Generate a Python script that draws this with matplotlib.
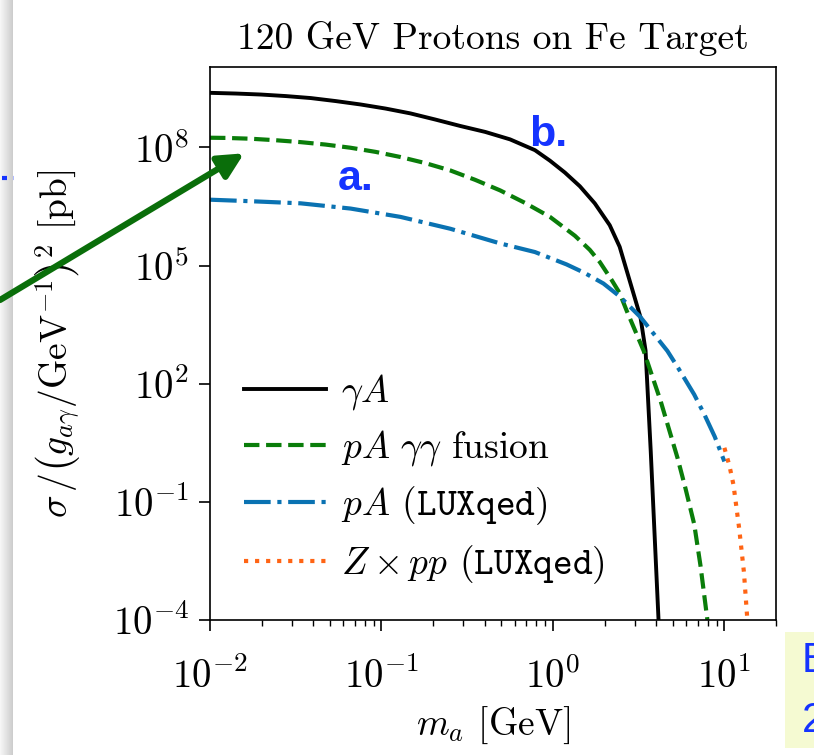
import numpy as np
import matplotlib.pyplot as plt
from matplotlib.patches import Rectangle
from matplotlib.lines import Line2D
from matplotlib.ticker import NullLocator, LogLocator

plt.rcParams.update({
    "font.family": "serif",
    "font.serif": ["cmr10"],
    "mathtext.fontset": "cm",
    "axes.formatter.use_mathtext": True,
})

# cross sections per unit coupling^2, pb
ma_gA = [0.01, 0.0142, 0.0198, 0.0277, 0.0387, 0.0541, 0.0755, 0.1055, 0.1475,
         0.206, 0.288, 0.403, 0.562, 0.786, 0.961, 1.174, 1.436, 1.754, 2.144,
         2.45, 2.80, 3.24, 3.47, 3.72, 4.13]
sig_gA = [2.43e9, 2.33e9, 2.20e9, 2.01e9, 1.79e9, 1.50e9, 1.23e9, 9.7e8, 7.3e8,
          5.1e8, 3.5e8, 2.47e8, 1.6e8, 8.5e7, 4.6e7, 2.3e7, 1.03e7, 3.8e6, 1.06e6,
          3.0e5, 4.2e4, 4.9e3, 6.9e2, 1.9, 1e-4]

ma_fus = [0.01, 0.0124, 0.0173, 0.0242, 0.0338, 0.0472, 0.066, 0.0923, 0.129,
          0.180, 0.252, 0.352, 0.492, 0.687, 0.961, 1.344, 1.641, 1.876, 2.20,
          2.45, 2.69, 3.38, 4.25, 5.33, 5.93, 6.67, 7.25, 7.96]
sig_fus = [1.76e8, 1.74e8, 1.66e8, 1.52e8, 1.36e8, 1.18e8, 9.8e7, 7.7e7, 5.7e7,
           4.0e7, 2.6e7, 1.5e7, 8.1e6, 3.9e6, 1.72e6, 5.7e5, 2.5e5, 1.23e5, 4.3e4,
           2.0e4, 7.2e3, 6.9e2, 36, 1.3, 0.22, 0.027, 2.45e-3, 1e-4]

ma_lux = [0.01, 0.0173, 0.0338, 0.066, 0.129, 0.252, 0.492, 0.786, 1.20, 1.53,
          1.97, 2.45, 3.24, 3.87, 4.65, 5.41, 6.67, 7.67, 8.78, 10.0]
sig_lux = [4.7e6, 4.3e6, 3.8e6, 2.8e6, 1.72e6, 8.6e5, 3.65e5, 2.2e5, 1.07e5, 6.5e4,
           3.5e4, 1.65e4, 4.9e3, 1.85e3, 6.8e2, 2.4e2, 53, 16, 4.55, 1.06]

ma_zpp = [10.0, 10.7, 11.3, 12.2, 13.0, 13.6]
sig_zpp = [2.36, 0.83, 0.27, 0.021, 1.65e-3, 1.07e-4]

labels = [r"$\gamma A$", r"$pA\ \gamma\gamma$ fusion",
          r"$pA$ ($\mathtt{LUXqed}$)", r"$Z\times pp$ ($\mathtt{LUXqed}$)"]

fs = 27
fig = plt.figure(figsize=(8.14, 7.55), dpi=100)
ax = fig.add_axes([210 / 814, 135 / 755, 566 / 814, 553 / 755])

ax.plot(ma_gA, sig_gA, color="black", lw=2.8, label=labels[0])
ax.plot(ma_fus, sig_fus, color="#0a7d0a", lw=3, ls="--", label=labels[1])
ax.plot(ma_lux, sig_lux, color="#0a72b2", lw=3, ls="-.", label=labels[2])
ax.plot(ma_zpp, sig_zpp, color="#ff6414", lw=3, ls=":", label=labels[3])

ax.set_xscale("log")
ax.set_yscale("log")
ax.set_xlim(0.01, 20)
ax.set_ylim(1e-4, 1.1e10)
ax.set_yticks([1e-4, 1e-1, 1e2, 1e5, 1e8])
ax.yaxis.set_minor_locator(NullLocator())
ax.xaxis.set_minor_locator(LogLocator(subs=np.arange(2, 10)))
ax.tick_params(which="major", length=8, width=1.2, labelsize=28)
ax.tick_params(axis="y", which="major", pad=7)
ax.tick_params(axis="x", which="major", pad=19)
ax.tick_params(which="minor", length=4.5, width=1.0)
for s in ax.spines.values():
    s.set_linewidth(1.2)

ax.set_xlabel(r"$m_a$ [GeV]", fontsize=fs, labelpad=6)
ax.set_ylabel(r"$\sigma\,/\left(g_{a\gamma}/\mathrm{GeV}^{-1}\right)^2$ [pb]", fontsize=fs)
ax.yaxis.set_label_coords(-0.225, 0.5)
ax.set_title("120 GeV Protons on Fe Target", fontsize=fs, pad=13)

ax.legend(loc="lower left", bbox_to_anchor=(0.0, 0.0), frameon=False, fontsize=fs,
          handlelength=2.2, handletextpad=0.4, labelspacing=0.43)

# slide annotations
blue = "#1533ff"
ax.text(0.0555, 10**6.91, "a.", color=blue, fontsize=31, fontweight="bold",
        family="Liberation Sans", ha="left", va="baseline")
ax.text(0.724, 10**8.03, "b.", color=blue, fontsize=31, fontweight="bold",
        family="Liberation Sans", ha="left", va="baseline")
arrow = ax.annotate("", xy=(0.0158, 10**7.85), xycoords="data",
                    xytext=(0, 455), textcoords="figure pixels",
                    arrowprops=dict(arrowstyle="-|>", lw=4.5, color="#0a6e0a",
                                    mutation_scale=38, shrinkA=0, shrinkB=0),
                    annotation_clip=False)

# slide edge shadow on the left
edge = fig.add_axes([0, 0, 13 / 814, 1])
edge.set_zorder(-1)
edge.imshow(np.linspace(0.97, 0.80, 40)[None, :], cmap="gray", vmin=0, vmax=1,
            aspect="auto", extent=[0, 1, 0, 1])
edge.axis("off")
fig.add_artist(Line2D([2 / 814, 14 / 814], [1 - 178 / 755] * 2, color=blue,
                      lw=3, ls=(0, (1.2, 1.6))))

# note box in the corner
fig.add_artist(Rectangle((785 / 814, 7 / 755), 40 / 814, 116 / 755,
                         facecolor="#f5fad2", edgecolor="none"))
fig.text(802 / 814, 1 - 672 / 755, "E", color=blue, fontsize=30,
         family="Liberation Sans", va="baseline")
fig.text(802 / 814, 1 - 732 / 755, "2", color=blue, fontsize=30,
         family="Liberation Sans", va="baseline")

fig.savefig("out.png", dpi=100)
